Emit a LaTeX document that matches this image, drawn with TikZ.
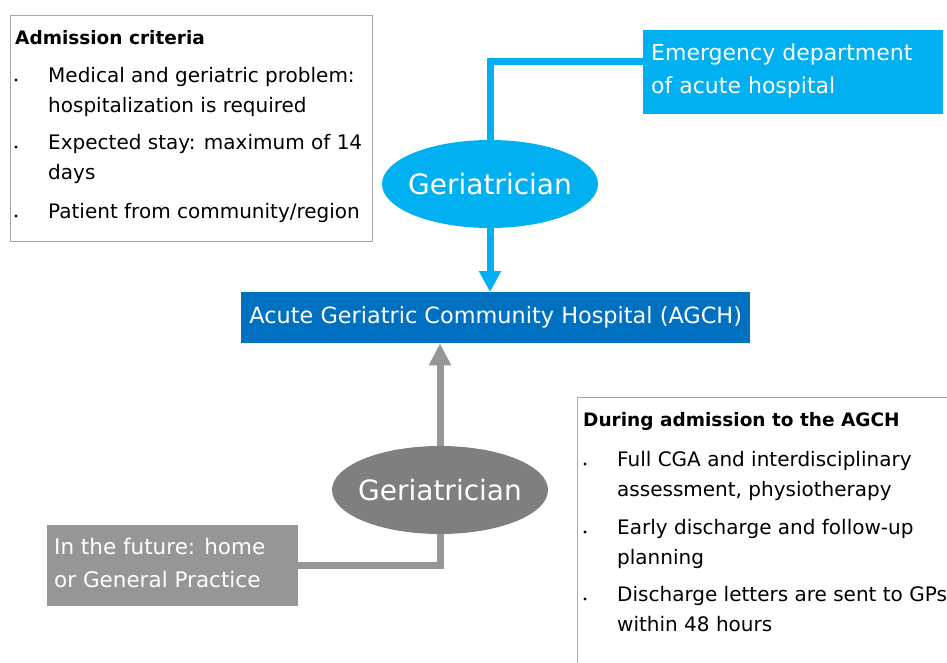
\documentclass[tikz,border=0pt]{standalone}
\usepackage{fontspec}
\setmainfont{DejaVu Sans}
\usetikzlibrary{positioning,shapes.geometric,arrows.meta}
\definecolor{skyblue}{HTML}{00B0F0}
\definecolor{agchblue}{HTML}{0070C0}
\definecolor{lightgrey}{HTML}{969696}
\definecolor{darkgrey}{HTML}{7F7F7F}
\definecolor{framegrey}{HTML}{A6A6A6}

\begin{document}
\begin{tikzpicture}[x=1pt,y=-1pt,
    infobox/.style={draw=framegrey,line width=1pt,anchor=north west,inner sep=0pt},
    listhead/.style={anchor=base west,inner sep=0pt,font=\fontsize{18.5}{22}\selectfont\bfseries},
    listitem/.style={anchor=north west,inner sep=0pt,align=left,font=\fontsize{20}{30}\selectfont},
    dot/.style={circle,fill=black,inner sep=0pt,minimum size=3.4pt},
    flowbox/.style={anchor=north west,inner sep=0pt,text=white},
    geri/.style={ellipse,text=white,minimum width=216pt,minimum height=88pt,inner xsep=-20pt,inner ysep=0pt,font=\fontsize{28}{30}\selectfont},
    blueflow/.style={draw=skyblue,line width=7pt},
    greyflow/.style={draw=lightgrey,line width=7pt}]
    \useasboundingbox (0,0) rectangle (947,662);
    \clip (0,0) rectangle (947,662);

    % admission criteria box
    \node[infobox,minimum width=362pt,minimum height=226pt] (criteria) at (10,15) {};
    \node[listhead] (crithead) at (15,44) {Admission criteria};
    \foreach \y/\t [count=\i] in {67/{Medical and geriatric problem:\\hospitalization is required},
                                 134/{Expected stay: maximum of 14\\days},
                                 203/{Patient from community/region}} {
        \node[dot] (critdot\i) at (16,\y+13) {};
        \node[listitem] (crit\i) at (48,\y) {\t};
    }

    % emergency department and first geriatrician
    \node[flowbox,fill=skyblue,minimum width=300pt,minimum height=84pt] (emerg) at (643,30) {};
    \node[anchor=north west,inner sep=0pt,text=white,align=left,
          font=\fontsize{22}{32.5}\selectfont] (emergtext) at (651,44)
        {Emergency department\\of acute hospital};
    \node[geri,fill=skyblue] (geritop) at (490,184) {Geriatrician};
    \coordinate (edout) at ([yshift=11pt]emerg.west);

    % the hospital
    \node[flowbox,fill=agchblue,minimum width=509pt,minimum height=51pt] (agch) at (241,292) {};
    \node[text=white,font=\fontsize{22.4}{26}\selectfont] (agchtext) at (agch.center) {Acute Geriatric Community Hospital (AGCH)};

    % future pathway
    \node[geri,fill=darkgrey] (geribot) at (440,490) {Geriatrician};
    \node[flowbox,fill=lightgrey,minimum width=251pt,minimum height=81pt] (future) at (47,525) {};
    \node[anchor=north west,inner sep=0pt,text=white,align=left,
          font=\fontsize{21.5}{33}\selectfont] (futuretext) at (54,538)
        {In the future: home\\or General Practice};

    % during admission box
    \node[infobox,minimum width=400pt,minimum height=300pt] (during) at (577,397) {};
    \node[listhead] (durhead) at (583,426) {During admission to the AGCH};
    \foreach \y/\t [count=\i] in {451/{Full CGA and interdisciplinary\\assessment, physiotherapy},
                                 519/{Early discharge and follow-up\\planning},
                                 586/{Discharge letters are sent to GPs\\within 48 hours}} {
        \node[dot] (durdot\i) at (585,\y+13) {};
        \node[listitem] (dur\i) at (617,\y) {\t};
    }

    % connectors
    \draw[blueflow] (edout) -| (geritop.north);
    \draw[blueflow,-{Triangle[width=21pt,length=21pt]}] (geritop.south) -- (geritop.south |- agch.north);
    \draw[greyflow] (future.east) -| (geribot.south);
    \draw[greyflow,-{Triangle[width=21pt,length=22pt]}] (geribot.north) -- (geribot.north |- agch.south);
\end{tikzpicture}
\end{document}
